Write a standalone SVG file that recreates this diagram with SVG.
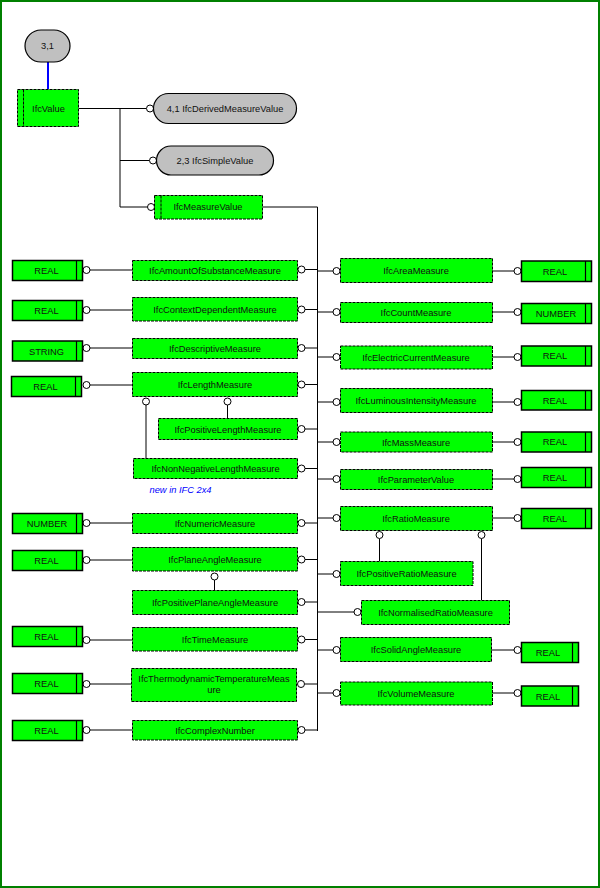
<svg xmlns="http://www.w3.org/2000/svg" width="600" height="888" viewBox="0 0 600 888">
<style>
.bg{fill:#fff;stroke:#008000;stroke-width:2}
.ent{fill:#00ff00;stroke:#000;stroke-width:1;stroke-dasharray:3 1}
.prim{fill:#00ff00;stroke:#000;stroke-width:1.5}
.pl{stroke:#000;stroke-width:1.2}
.ref{fill:#c0c0c0;stroke:#000;stroke-width:1.2}
.dl{stroke:#000;stroke-width:1;stroke-dasharray:3 1}
.ln{stroke:#000;stroke-width:1;fill:none}
.c{fill:#fff;stroke:#000;stroke-width:1}
text{font-family:"Liberation Sans",Arial,sans-serif;font-size:9.3px;fill:#111;text-anchor:middle}
.note{fill:#0000ff;font-style:italic;text-anchor:start}
</style>
<rect class="bg" x="1" y="1" width="598" height="886"/>

<g id="connectors">
<line x1="48" y1="62" x2="48" y2="89" stroke="#0000ff" stroke-width="2"/>
<path class="ln" d="M79,108.5H146.5M120,108.5V207M120,160.5H149.5M120,207H147.5M263,207H317.5V731"/>
<circle class="c" cx="150" cy="108.5" r="3.5"/>
<circle class="c" cx="153" cy="160.5" r="3.5"/>
<circle class="c" cx="151" cy="207" r="3.5"/>
<!-- left column: primitive -> entity -->
<path class="ln" d="M90,270H132M90,310H132M90,348H132M90,385H132M90,523H132M90,560H132M90,640H132M90,684H131M90,730H132"/>
<circle class="c" cx="86.5" cy="270" r="3.5"/>
<circle class="c" cx="86.5" cy="310" r="3.5"/>
<circle class="c" cx="86.5" cy="348" r="3.5"/>
<circle class="c" cx="86.5" cy="385" r="3.5"/>
<circle class="c" cx="86.5" cy="523" r="3.5"/>
<circle class="c" cx="86.5" cy="560" r="3.5"/>
<circle class="c" cx="86.5" cy="640" r="3.5"/>
<circle class="c" cx="86.5" cy="684" r="3.5"/>
<circle class="c" cx="86.5" cy="730" r="3.5"/>
<!-- left column: entity -> trunk -->
<path class="ln" d="M305,269.5H317.5M305,309.5H317.5M305,348H317.5M305,384.5H317.5M305,429H317.5M305,468.5H317.5M305,523H317.5M305,559.5H317.5M305,602H317.5M305,639.5H317.5M305,684H317.5M305,730H317.5"/>
<circle class="c" cx="301.5" cy="269.5" r="3.5"/>
<circle class="c" cx="301.5" cy="309.5" r="3.5"/>
<circle class="c" cx="301.5" cy="348" r="3.5"/>
<circle class="c" cx="301.5" cy="384.5" r="3.5"/>
<circle class="c" cx="301.5" cy="429" r="3.5"/>
<circle class="c" cx="301.5" cy="468.5" r="3.5"/>
<circle class="c" cx="301.5" cy="523" r="3.5"/>
<circle class="c" cx="301.5" cy="559.5" r="3.5"/>
<circle class="c" cx="301.5" cy="602" r="3.5"/>
<circle class="c" cx="301.5" cy="639.5" r="3.5"/>
<circle class="c" cx="301" cy="684" r="3.5"/>
<circle class="c" cx="301.5" cy="730" r="3.5"/>
<!-- right column: trunk -> entity -->
<path class="ln" d="M317.5,271H333M317.5,312H333M317.5,357H333M317.5,402H333M317.5,442H333M317.5,479H333M317.5,518H333M317.5,574H333M317.5,612H354M317.5,650H333M317.5,693H333"/>
<circle class="c" cx="336.5" cy="271" r="3.5"/>
<circle class="c" cx="336.5" cy="312" r="3.5"/>
<circle class="c" cx="336.5" cy="357" r="3.5"/>
<circle class="c" cx="336.5" cy="402" r="3.5"/>
<circle class="c" cx="336.5" cy="442" r="3.5"/>
<circle class="c" cx="336.5" cy="479" r="3.5"/>
<circle class="c" cx="336.5" cy="518" r="3.5"/>
<circle class="c" cx="336.5" cy="574" r="3.5"/>
<circle class="c" cx="357.5" cy="612" r="3.5"/>
<circle class="c" cx="336.5" cy="650" r="3.5"/>
<circle class="c" cx="336.5" cy="693" r="3.5"/>
<!-- right column: entity -> primitive -->
<path class="ln" d="M492,271H514M492,312H514M492,357H514M492,402H514M492,442H514M492,479H514M492,518H514M491,650H514M492,693H514"/>
<circle class="c" cx="517.5" cy="271" r="3.5"/>
<circle class="c" cx="517.5" cy="312" r="3.5"/>
<circle class="c" cx="517.5" cy="357" r="3.5"/>
<circle class="c" cx="517.5" cy="402" r="3.5"/>
<circle class="c" cx="517.5" cy="442" r="3.5"/>
<circle class="c" cx="517.5" cy="479" r="3.5"/>
<circle class="c" cx="517.5" cy="518" r="3.5"/>
<circle class="c" cx="517.5" cy="650" r="3.5"/>
<circle class="c" cx="517.5" cy="693" r="3.5"/>
<!-- subtype links -->
<path class="ln" d="M227.5,405V418M146,405V458M214.5,580V590M379.5,538.5V561M481.5,538.5V600"/>
<circle class="c" cx="227.5" cy="401.5" r="3.5"/>
<circle class="c" cx="146" cy="401.5" r="3.5"/>
<circle class="c" cx="214.5" cy="576.5" r="3.5"/>
<circle class="c" cx="379.5" cy="535" r="3.5"/>
<circle class="c" cx="481.5" cy="535" r="3.5"/>
</g>

<g id="n-3-1"><rect class="ref" x="25" y="30" width="45" height="32" rx="16"/><text x="47.5" y="49.3">3,1</text></g>
<g id="IfcValue"><rect class="ent" x="17.5" y="89.5" width="61" height="37"/><line class="dl" x1="23.5" y1="89.5" x2="23.5" y2="126.5"/><text x="48.5" y="112">IfcValue</text></g>
<g id="IfcDerivedMeasureValue"><rect class="ref" x="153.5" y="93.5" width="143" height="30" rx="15"/><text x="225" y="111.5">4,1 IfcDerivedMeasureValue</text></g>
<g id="IfcSimpleValue"><rect class="ref" x="156.5" y="146" width="117" height="29" rx="14.5"/><text x="215" y="163.8">2,3 IfcSimpleValue</text></g>
<g id="IfcMeasureValue"><rect class="ent" x="154.5" y="195.5" width="108" height="23.5"/><line class="dl" x1="161" y1="195.5" x2="161" y2="219"/><text x="208" y="210.3">IfcMeasureValue</text></g>

<!-- left column entities -->
<g id="IfcAmountOfSubstanceMeasure"><rect class="ent" x="132.5" y="260.5" width="165" height="20"/><text x="215" y="273.8">IfcAmountOfSubstanceMeasure</text></g>
<g id="IfcContextDependentMeasure"><rect class="ent" x="132.5" y="297.5" width="165" height="23.5"/><text x="215" y="313.3">IfcContextDependentMeasure</text></g>
<g id="IfcDescriptiveMeasure"><rect class="ent" x="132.5" y="338.5" width="165" height="20"/><text x="215" y="351.8">IfcDescriptiveMeasure</text></g>
<g id="IfcLengthMeasure"><rect class="ent" x="132.5" y="372.5" width="165" height="24"/><text x="215" y="388.3">IfcLengthMeasure</text></g>
<g id="IfcPositiveLengthMeasure"><rect class="ent" x="158.5" y="418.5" width="139" height="21"/><text x="228" y="433.3">IfcPositiveLengthMeasure</text></g>
<g id="IfcNonNegativeLengthMeasure"><rect class="ent" x="133.5" y="458.5" width="164" height="20"/><text x="215.5" y="472">IfcNonNegativeLengthMeasure</text></g>
<text class="note" x="149.5" y="492.5">new in IFC 2x4</text>
<g id="IfcNumericMeasure"><rect class="ent" x="132.5" y="513.5" width="165" height="20"/><text x="215" y="526.8">IfcNumericMeasure</text></g>
<g id="IfcPlaneAngleMeasure"><rect class="ent" x="132.5" y="547.5" width="165" height="23.5"/><text x="215" y="563.3">IfcPlaneAngleMeasure</text></g>
<g id="IfcPositivePlaneAngleMeasure"><rect class="ent" x="132.5" y="590.5" width="165" height="24"/><text x="215" y="606">IfcPositivePlaneAngleMeasure</text></g>
<g id="IfcTimeMeasure"><rect class="ent" x="132.5" y="627.5" width="165" height="23.5"/><text x="215" y="643">IfcTimeMeasure</text></g>
<g id="IfcThermodynamicTemperatureMeasure"><rect class="ent" x="131.5" y="668.5" width="165" height="33"/><text x="214" y="682.3">IfcThermodynamicTemperatureMeas</text><text x="214" y="693.3">ure</text></g>
<g id="IfcComplexNumber"><rect class="ent" x="132.5" y="720.5" width="165" height="19.5"/><text x="215" y="733.6">IfcComplexNumber</text></g>

<!-- left column primitives -->
<g id="REAL-1"><rect class="prim" x="12.5" y="260.5" width="70" height="20"/><line class="pl" x1="76.5" y1="260.5" x2="76.5" y2="280.5"/><text x="46.5" y="274">REAL</text></g>
<g id="REAL-2"><rect class="prim" x="12.5" y="300.5" width="70" height="20"/><line class="pl" x1="76.5" y1="300.5" x2="76.5" y2="320.5"/><text x="46.5" y="314">REAL</text></g>
<g id="STRING"><rect class="prim" x="12.5" y="341" width="70" height="20"/><line class="pl" x1="76.5" y1="341" x2="76.5" y2="361"/><text x="46.5" y="354.5">STRING</text></g>
<g id="REAL-4"><rect class="prim" x="11.5" y="376.5" width="70" height="20"/><line class="pl" x1="75.5" y1="376.5" x2="75.5" y2="396.5"/><text x="45.5" y="390">REAL</text></g>
<g id="NUMBER-1"><rect class="prim" x="12.5" y="513.5" width="70" height="20"/><line class="pl" x1="76.5" y1="513.5" x2="76.5" y2="533.5"/><text x="47" y="527">NUMBER</text></g>
<g id="REAL-8"><rect class="prim" x="12.5" y="550.5" width="70" height="20"/><line class="pl" x1="76.5" y1="550.5" x2="76.5" y2="570.5"/><text x="46.5" y="564">REAL</text></g>
<g id="REAL-10"><rect class="prim" x="12.5" y="626.5" width="70" height="20"/><line class="pl" x1="76.5" y1="626.5" x2="76.5" y2="646.5"/><text x="46.5" y="640">REAL</text></g>
<g id="REAL-11"><rect class="prim" x="12.5" y="673.5" width="70" height="20"/><line class="pl" x1="76.5" y1="673.5" x2="76.5" y2="693.5"/><text x="46.5" y="687">REAL</text></g>
<g id="REAL-12"><rect class="prim" x="12.5" y="720.5" width="70" height="20"/><line class="pl" x1="76.5" y1="720.5" x2="76.5" y2="740.5"/><text x="46.5" y="734">REAL</text></g>

<!-- right column entities -->
<g id="IfcAreaMeasure"><rect class="ent" x="340.5" y="258.5" width="152" height="24"/><text x="416" y="274">IfcAreaMeasure</text></g>
<g id="IfcCountMeasure"><rect class="ent" x="340.5" y="302.5" width="152" height="20"/><text x="416" y="316">IfcCountMeasure</text></g>
<g id="IfcElectricCurrentMeasure"><rect class="ent" x="340.5" y="346" width="152" height="23"/><text x="416" y="361">IfcElectricCurrentMeasure</text></g>
<g id="IfcLuminousIntensityMeasure"><rect class="ent" x="340.5" y="388.5" width="152" height="24"/><text x="416" y="403.5">IfcLuminousIntensityMeasure</text></g>
<g id="IfcMassMeasure"><rect class="ent" x="340.5" y="432" width="152" height="20"/><text x="416" y="445.5">IfcMassMeasure</text></g>
<g id="IfcParameterValue"><rect class="ent" x="340.5" y="469.5" width="152" height="20"/><text x="416" y="483">IfcParameterValue</text></g>
<g id="IfcRatioMeasure"><rect class="ent" x="340.5" y="506.5" width="152" height="24"/><text x="416" y="521.5">IfcRatioMeasure</text></g>
<g id="IfcPositiveRatioMeasure"><rect class="ent" x="340.5" y="561.5" width="132.5" height="24"/><text x="406.5" y="577.3">IfcPositiveRatioMeasure</text></g>
<g id="IfcNormalisedRatioMeasure"><rect class="ent" x="361.5" y="600.5" width="148" height="24"/><text x="435.5" y="616">IfcNormalisedRatioMeasure</text></g>
<g id="IfcSolidAngleMeasure"><rect class="ent" x="340.5" y="637.5" width="151" height="24"/><text x="416" y="653">IfcSolidAngleMeasure</text></g>
<g id="IfcVolumeMeasure"><rect class="ent" x="340.5" y="682" width="152" height="23"/><text x="416" y="697">IfcVolumeMeasure</text></g>

<!-- right column primitives -->
<g id="REAL-r1"><rect class="prim" x="521.5" y="261" width="70" height="20.5"/><line class="pl" x1="585.5" y1="261" x2="585.5" y2="281.5"/><text x="555" y="274.8">REAL</text></g>
<g id="NUMBER-r2"><rect class="prim" x="521.5" y="303.5" width="70" height="20"/><line class="pl" x1="585.5" y1="303.5" x2="585.5" y2="323.5"/><text x="556" y="317">NUMBER</text></g>
<g id="REAL-r3"><rect class="prim" x="521.5" y="346" width="70" height="20"/><line class="pl" x1="585.5" y1="346" x2="585.5" y2="366"/><text x="555" y="359.3">REAL</text></g>
<g id="REAL-r4"><rect class="prim" x="521.5" y="390.5" width="70" height="19.5"/><line class="pl" x1="585.5" y1="390.5" x2="585.5" y2="410"/><text x="555" y="404">REAL</text></g>
<g id="REAL-r5"><rect class="prim" x="521.5" y="432" width="70" height="20"/><line class="pl" x1="585.5" y1="432" x2="585.5" y2="452"/><text x="555" y="445">REAL</text></g>
<g id="REAL-r6"><rect class="prim" x="521.5" y="467.5" width="70" height="20"/><line class="pl" x1="585.5" y1="467.5" x2="585.5" y2="487.5"/><text x="555" y="481">REAL</text></g>
<g id="REAL-r7"><rect class="prim" x="521.5" y="508.5" width="70" height="20"/><line class="pl" x1="585.5" y1="508.5" x2="585.5" y2="528.5"/><text x="555" y="522">REAL</text></g>
<g id="REAL-r10"><rect class="prim" x="521.5" y="642.5" width="57" height="20"/><line class="pl" x1="572.5" y1="642.5" x2="572.5" y2="662.5"/><text x="548" y="656">REAL</text></g>
<g id="REAL-r11"><rect class="prim" x="521.5" y="686" width="57" height="20"/><line class="pl" x1="572.5" y1="686" x2="572.5" y2="706"/><text x="548" y="699.5">REAL</text></g>
</svg>
